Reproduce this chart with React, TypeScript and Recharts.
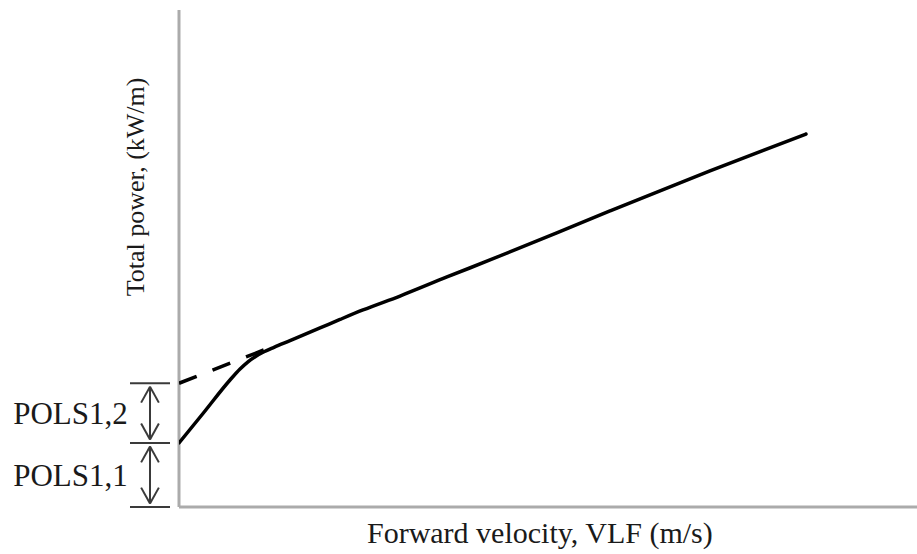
import React from 'react';
import { LineChart, Line, XAxis, YAxis, ReferenceLine, ReferenceDot } from 'recharts';

// Forward velocity (relative units, 0..100 along the axis)
const velocity = [0, 3.25, 6.91, 8.27, 9.35, 10.43, 11.52, 12.87, 15.04, 19.11, 21.82, 24.93, 29.95, 36.31, 42.14, 58.4, 71.95, 84.96];
// Total power (relative units, 0..100 along the axis)
const totalPower = [12.88, 18.81, 25.55, 27.77, 29.22, 30.34, 31.23, 32.13, 33.48, 36.02, 37.73, 39.64, 42.45, 46.28, 49.7, 59.56, 67.61, 75.05];
// Linear extrapolation of the high-speed part back to zero velocity
const extrapVelocity = [0, 12.87];
const extrapPower = [24.9, 32.4];
// POLS levels (zero, POLS1,1, POLS1,1 + POLS1,2)
const polsLevels = [0, 12.88, 24.9];
const polsLabels = ['POLS1,1', 'POLS1,2'];

const curveData = velocity.map((v, i) => ({ v, p: totalPower[i] }));
const extrapData = extrapVelocity.map((v, i) => ({ v, p: extrapPower[i] }));

const W = 917;
const H = 554;
const FONT = '"Liberation Serif", "Times New Roman", serif';
const TEXT = '#1a1a1a';
const AXIS = '#ababab';
const ANN = '#3a3a3a';

// annotation geometry in data units
const TICK_X0 = -6.64;
const TICK_X1 = -1.22;
const ARROW_X = -3.93;
const HEAD_DX = 1.2;
const HEAD_DY = 3.2;
const GAP = 0.7;

export default function App() {
  const segs: { a: { x: number; y: number }; b: { x: number; y: number } }[] = [];
  polsLevels.forEach((lv) => {
    segs.push({ a: { x: TICK_X0, y: lv }, b: { x: TICK_X1, y: lv } });
  });
  for (let i = 0; i < polsLevels.length - 1; i++) {
    const lo = polsLevels[i] + GAP;
    const hi = polsLevels[i + 1] - GAP;
    segs.push({ a: { x: ARROW_X, y: lo }, b: { x: ARROW_X, y: hi } });
    segs.push({ a: { x: ARROW_X, y: hi }, b: { x: ARROW_X - HEAD_DX, y: hi - HEAD_DY } });
    segs.push({ a: { x: ARROW_X, y: hi }, b: { x: ARROW_X + HEAD_DX, y: hi - HEAD_DY } });
    segs.push({ a: { x: ARROW_X, y: lo }, b: { x: ARROW_X - HEAD_DX, y: lo + HEAD_DY } });
    segs.push({ a: { x: ARROW_X, y: lo }, b: { x: ARROW_X + HEAD_DX, y: lo + HEAD_DY } });
  }

  return (
    <div style={{ position: 'absolute', left: 0, top: 0, width: W, height: H, background: '#fff' }}>
      <LineChart width={W} height={H} margin={{ top: 10, right: 0, bottom: 47, left: 179 }}>
        <XAxis type="number" dataKey="v" domain={[0, 100]} hide allowDataOverflow />
        <YAxis type="number" dataKey="p" domain={[0, 100]} hide allowDataOverflow />
        <ReferenceLine x={0} stroke={AXIS} strokeWidth={3} ifOverflow="visible" />
        <ReferenceLine y={0} stroke={AXIS} strokeWidth={3} ifOverflow="visible" />
        {segs.map((s, i) => (
          <ReferenceLine key={'s' + i} segment={[s.a, s.b]} stroke={ANN} strokeWidth={2} ifOverflow="visible" />
        ))}
        <ReferenceDot
          x={-14.7}
          y={(polsLevels[1] + polsLevels[2]) / 2}
          r={0}
          ifOverflow="visible"
          label={{ value: polsLabels[1], position: 'center', fontFamily: FONT, fontSize: 31, fill: TEXT }}
        />
        <ReferenceDot
          x={-14.7}
          y={(polsLevels[0] + polsLevels[1]) / 2}
          r={0}
          ifOverflow="visible"
          label={{ value: polsLabels[0], position: 'center', fontFamily: FONT, fontSize: 31, fill: TEXT }}
        />
        <ReferenceDot
          x={48.9}
          y={-5.0}
          r={0}
          ifOverflow="visible"
          label={{ value: 'Forward velocity, VLF (m/s)', position: 'center', fontFamily: FONT, fontSize: 30, fill: TEXT }}
        />
        <ReferenceDot
          x={-5.96}
          y={64.4}
          r={0}
          ifOverflow="visible"
          label={{ value: 'Total power, (kW/m)', position: 'center', angle: -90, fontFamily: FONT, fontSize: 26, fill: TEXT }}
        />
        <Line
          data={extrapData}
          dataKey="p"
          type="linear"
          stroke="#000"
          strokeWidth={3.5}
          strokeDasharray="19 17"
          dot={false}
          activeDot={false}
          isAnimationActive={false}
        />
        <Line
          data={curveData}
          dataKey="p"
          type="monotone"
          stroke="#000"
          strokeWidth={3.5}
          strokeLinecap="round"
          dot={false}
          activeDot={false}
          isAnimationActive={false}
        />
      </LineChart>
    </div>
  );
}
